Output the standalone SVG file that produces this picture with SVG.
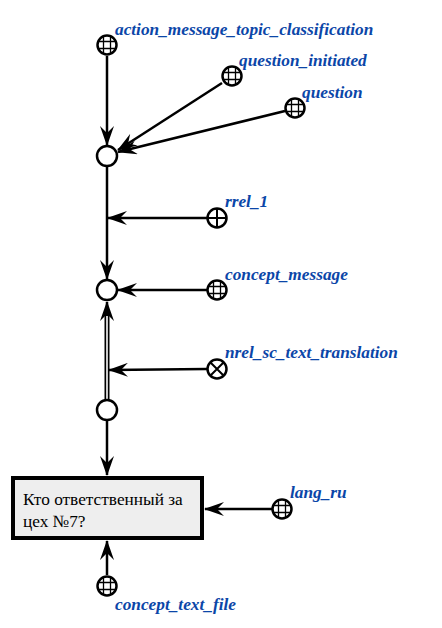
<svg xmlns="http://www.w3.org/2000/svg" width="442" height="628" viewBox="0 0 442 628">
<style>
.lbl{font-family:"Liberation Serif",serif;font-weight:bold;font-style:italic;font-size:17.3px;fill:#0b46a8}
.nd{fill:#fff;stroke:#000;stroke-width:2.5}
.gl{stroke:#000;stroke-width:1.3;fill:none}
.e{stroke:#000;stroke-width:2.5;fill:none}
.txt{font-family:"Liberation Serif",serif;font-size:17.3px;fill:#000}
</style>
<defs>
<marker id="ar" viewBox="0 0 20 14" refX="19" refY="7" markerWidth="20" markerHeight="14" markerUnits="userSpaceOnUse" orient="auto">
<path d="M0,0 L20,7 L0,14 L7,7 Z" fill="#000"/>
</marker>
<g id="globe">
<circle r="9.5" class="nd"/>
<path class="gl" d="M-9,-3.5H9M-9,3.5H9M-3.5,-9V9M3.5,-9V9"/>
</g>
</defs>
<g id="connectors">
<line class="e" x1="107" y1="56" x2="107" y2="145" marker-end="url(#ar)"/>
<line class="e" x1="222" y1="83" x2="118" y2="150" marker-end="url(#ar)"/>
<line class="e" x1="285" y1="111" x2="118" y2="152" marker-end="url(#ar)"/>
<line class="e" x1="107" y1="167" x2="107" y2="279" marker-end="url(#ar)"/>
<line class="e" x1="207" y1="218" x2="108" y2="218" marker-end="url(#ar)"/>
<line class="e" x1="207" y1="290" x2="118" y2="290" marker-end="url(#ar)"/>
<line stroke="#000" stroke-width="5" x1="107" y1="400" x2="107" y2="312"/>
<line stroke="#fff" stroke-width="1.6" x1="107" y1="400" x2="107" y2="312"/>
<line class="e" x1="107" y1="316" x2="107" y2="302" marker-end="url(#ar)"/>
<line class="e" x1="207" y1="369" x2="109" y2="370" marker-end="url(#ar)"/>
<line class="e" x1="107" y1="421" x2="107" y2="475" marker-end="url(#ar)"/>
<line class="e" x1="272" y1="509" x2="205" y2="509" marker-end="url(#ar)"/>
<line class="e" x1="107" y1="575" x2="107" y2="541" marker-end="url(#ar)"/>
</g>
<g id="n_action_message_topic_classification">
<use href="#globe" x="107" y="45"/>
<text class="lbl" x="115" y="35">action_message_topic_classification</text>
</g>
<g id="n_question_initiated">
<use href="#globe" x="232" y="76"/>
<text class="lbl" x="239" y="66">question_initiated</text>
</g>
<g id="n_question">
<use href="#globe" x="295" y="108"/>
<text class="lbl" x="302" y="98">question</text>
</g>
<g id="n1"><circle cx="107" cy="156" r="10" class="nd"/></g>
<g id="n_rrel_1">
<circle cx="217" cy="218" r="9.5" class="nd"/>
<path d="M208,218H226M217,209V227" stroke="#000" stroke-width="2"/>
<text class="lbl" x="225" y="207">rrel_1</text>
</g>
<g id="n2"><circle cx="107" cy="290" r="10" class="nd"/></g>
<g id="n_concept_message">
<use href="#globe" x="217" y="290"/>
<text class="lbl" x="225" y="280">concept_message</text>
</g>
<g id="n_nrel_sc_text_translation">
<circle cx="217" cy="369" r="9.5" class="nd"/>
<path d="M210.5,362.5L223.5,375.5M223.5,362.5L210.5,375.5" stroke="#000" stroke-width="2"/>
<text class="lbl" x="225" y="358">nrel_sc_text_translation</text>
</g>
<g id="n3"><circle cx="107" cy="410" r="10" class="nd"/></g>
<g id="n_link">
<rect x="13" y="478" width="189" height="60" fill="#eeeeee" stroke="#000" stroke-width="4"/>
<text class="txt" x="23" y="505">Кто ответственный за</text>
<text class="txt" x="23" y="527">цех №7?</text>
</g>
<g id="n_lang_ru">
<use href="#globe" x="282" y="509"/>
<text class="lbl" x="290" y="498">lang_ru</text>
</g>
<g id="n_concept_text_file">
<use href="#globe" x="107" y="586"/>
<text class="lbl" x="115" y="610">concept_text_file</text>
</g>
</svg>
